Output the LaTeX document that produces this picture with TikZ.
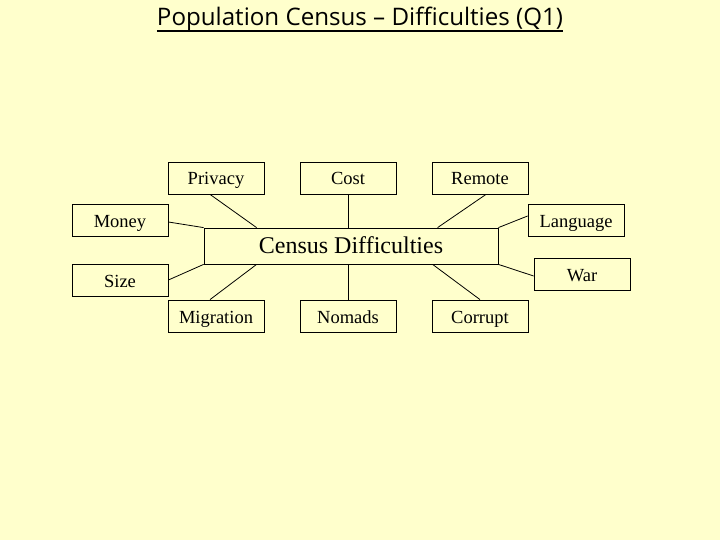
\documentclass[tikz,border=0pt]{standalone}
\usepackage{fontspec}
\usepackage{graphicx}
\setmainfont{Liberation Serif}
\newfontfamily\titlefont{Open Sans}
\definecolor{bgyellow}{HTML}{FFFFCC}
\begin{document}
\begin{tikzpicture}[x=1pt,y=-1pt,
  box/.style={draw=black,line width=0.8pt,rectangle,minimum width=96pt,minimum height=32pt,inner sep=0pt,
    text height=14pt,text depth=0pt,font=\fontsize{18.5}{20}\selectfont},
  centerbox/.style={box,minimum width=294pt,minimum height=36pt,font=\fontsize{24}{26}\selectfont},
  link/.style={draw=black,line width=0.8pt}]
\fill[bgyellow] (0,0) rectangle (720,540);
\useasboundingbox (0,0) rectangle (720,540);
% title
\node[anchor=base,inner sep=0pt] (title) at (360,26)
  {\resizebox{406pt}{!}{\titlefont\fontsize{22}{26}\selectfont Population Census – Difficulties (Q1)}};
\draw[line width=1.3pt] ([yshift=-5pt]title.base west) -- ([yshift=-5pt]title.base east);
% nodes
\node[centerbox] (census) at (351,246) {Census Difficulties};
\node[box] (privacy) at (216,178) {Privacy};
\node[box] (cost) at (348,178) {Cost};
\node[box] (remote) at (480,178) {Remote};
\node[box] (money) at (120,220) {Money};
\node[box] (language) at (576,220) {Language};
\node[box] (size) at (120,280) {Size};
\node[box] (war) at (582,274) {War};
\node[box] (migration) at (216,316) {Migration};
\node[box] (nomads) at (348,316) {Nomads};
\node[box] (corrupt) at (480,316) {Corrupt};
% connectors
\draw[link] ([xshift=-6pt]privacy.south) -- ([xshift=53pt]census.north west);
\draw[link] (cost.south) -- ([xshift=-3pt]census.north);
\draw[link] ([xshift=6pt]remote.south) -- ([xshift=234pt]census.north west);
\draw[link] ([yshift=-2pt]money.east) -- (census.north west);
\draw[link] (size.east) -- (census.south west);
\draw[link] ([xshift=-6pt]migration.north) -- ([xshift=53pt]census.south west);
\draw[link] (nomads.north) -- ([xshift=-3pt]census.south);
\draw[link] (corrupt.north) -- ([xshift=229pt]census.south west);
\draw[link] (census.north east) -- ([yshift=4pt]language.west);
\draw[link] (census.south east) -- ([yshift=-2pt]war.west);
\end{tikzpicture}
\end{document}
